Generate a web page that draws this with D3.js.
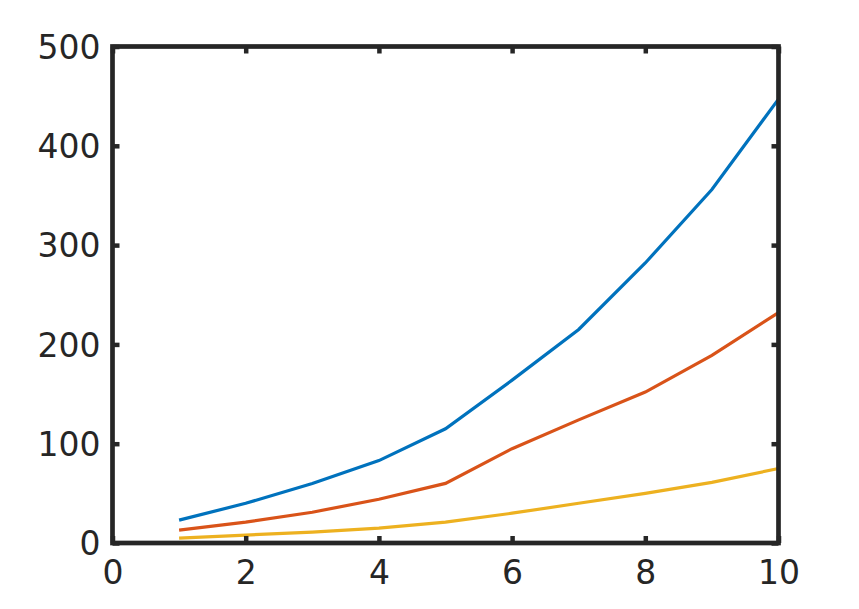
<!DOCTYPE html>
<html>
<head>
<meta charset="utf-8">
<script src="https://cdn.jsdelivr.net/npm/d3@7"></script>
<style>
  body { margin: 0; background: #fff; }
  svg { display: block; }
  .tick text { font-family: "DejaVu Sans", sans-serif; font-size: 33px; fill: #262626; }
</style>
</head>
<body>
<div id="chart"></div>
<script>
// 数据
var xValues = [1, 2, 3, 4, 5, 6, 7, 8, 9, 10];
var blueValues = [23, 40, 60, 83, 115, 164, 215, 282, 356, 447];
var redValues = [13, 21, 31, 44, 60, 95, 124, 152, 189, 232];
var yellowValues = [5, 8, 11, 15, 21, 30, 40, 50, 61, 75];
var xTicks = [0, 2, 4, 6, 8, 10];
var yTicks = [0, 100, 200, 300, 400, 500];

var width = 859, height = 609;
var margin = {left: 112.5, right: 80.5, top: 46.5, bottom: 66};
var axisColor = '#262626';

var svg = d3.select('#chart').append('svg')
  .attr('width', width)
  .attr('height', height);

var x = d3.scaleLinear().domain([0, 10]).range([margin.left, width - margin.right]);
var y = d3.scaleLinear().domain([0, 500]).range([height - margin.bottom, margin.top]);

//折线
var series = [
  {values: blueValues, color: '#0072BD'},
  {values: redValues, color: '#D95319'},
  {values: yellowValues, color: '#EDB120'}
];
var line = d3.line()
  .x(function(d) { return x(d[0]); })
  .y(function(d) { return y(d[1]); });

series.forEach(function(s) {
  svg.append('path')
    .datum(xValues.map(function(v, i) { return [v, s.values[i]]; }))
    .attr('fill', 'none')
    .attr('stroke', s.color)
    .attr('stroke-width', 3.2)
    .attr('d', line);
});

//坐标轴
var xAxis = svg.append('g')
  .attr('transform', 'translate(0,' + y(0) + ')')
  .call(d3.axisBottom(x).tickValues(xTicks).tickSize(-7).tickPadding(18).tickFormat(d3.format('d')));
var xAxisTop = svg.append('g')
  .attr('transform', 'translate(0,' + y(500) + ')')
  .call(d3.axisTop(x).tickValues(xTicks).tickSize(-7).tickFormat(''));
var yAxis = svg.append('g')
  .attr('transform', 'translate(' + x(0) + ',0)')
  .call(d3.axisLeft(y).tickValues(yTicks).tickSize(-7).tickPadding(12).tickFormat(d3.format('d')));
var yAxisRight = svg.append('g')
  .attr('transform', 'translate(' + x(10) + ',0)')
  .call(d3.axisRight(y).tickValues(yTicks).tickSize(-7).tickFormat(''));

[xAxis, xAxisTop, yAxis, yAxisRight].forEach(function(g) {
  g.select('.domain').remove();
  g.selectAll('.tick line').attr('stroke', axisColor).attr('stroke-width', 4.5);
  g.selectAll('.tick text').attr('font-family', null).attr('font-size', null);
});
yAxis.selectAll('.tick text').attr('dy', '0.36em');

//边框
svg.append('rect')
  .attr('x', x(0))
  .attr('y', y(500))
  .attr('width', x(10) - x(0))
  .attr('height', y(0) - y(500))
  .attr('fill', 'none')
  .attr('stroke', axisColor)
  .attr('stroke-width', 4.7);
</script>
</body>
</html>
